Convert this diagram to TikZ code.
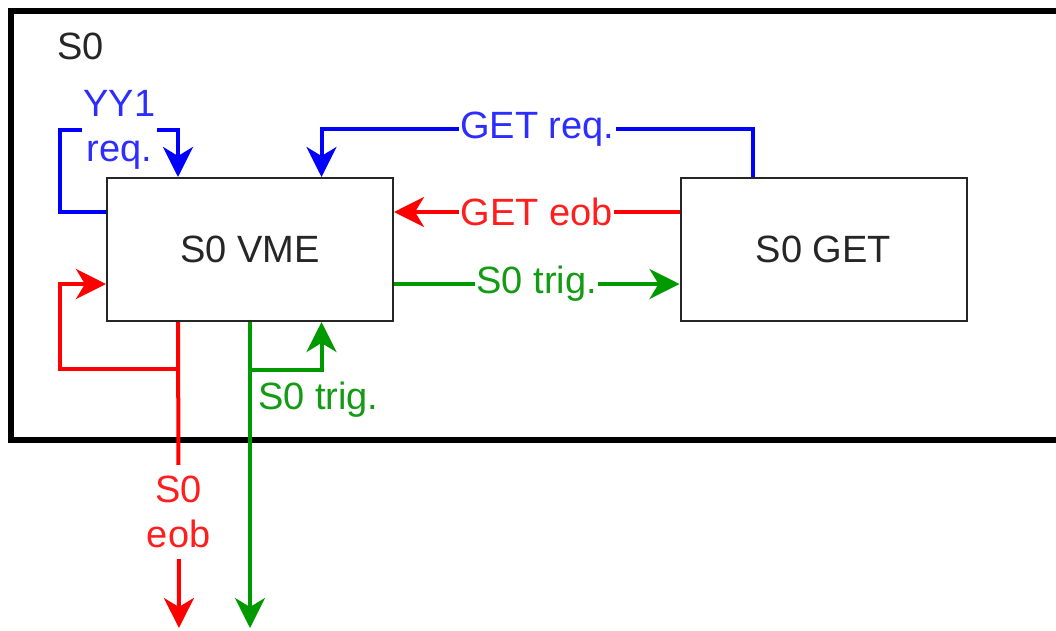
\documentclass[tikz,border=0pt]{standalone}
\usepackage{fontspec}
\setmainfont{Liberation Sans}
\usetikzlibrary{arrows.meta}
\definecolor{myblue}{RGB}{0,0,255}
\definecolor{myred}{RGB}{255,0,0}
\definecolor{mygreen}{RGB}{0,153,0}
\definecolor{bluetext}{RGB}{45,45,255}
\definecolor{redtext}{RGB}{255,30,30}
\definecolor{greentext}{RGB}{20,155,20}
\begin{document}
\begin{tikzpicture}[x=1pt,y=-1pt,
  box/.style={draw=black!85, line width=2pt, minimum width=286pt, minimum height=143pt,
    inner sep=0pt, font=\fontsize{38}{45}\selectfont, text=black!85},
  conn/.style={line width=4pt, -{Stealth[length=30pt,width=30pt,inset=9pt]}},
  lbl/.style={fill=white, font=\fontsize{38}{45}\selectfont, inner xsep=1.5pt, inner ysep=2pt, align=center},
  plain/.style={font=\fontsize{38}{45}\selectfont, inner sep=0pt},
]
\useasboundingbox (0,0) rectangle (1056,630);
\fill[white] (0,0) rectangle (1056,630);
% outer frame
\draw[line width=6pt] (11,11) rectangle (1075,440);
\node[plain, anchor=base west, text=black!85] (title) at (57,59) {S0};

% blocks
\node[box] (vme) at (250,249.5) {S0 VME};
\node[box] (get) at (823.5,249.5) {S0 GET};

% coordinates
\coordinate (yyL) at (60,130);
\coordinate (redL) at (60,369);
\coordinate (eobEnd) at (179,628);
\coordinate (trigEnd) at (250,628);

% YY1 req. loop
\draw[conn,myblue] ([yshift=-35pt]vme.north west) -| (yyL) -| ([xshift=72pt]vme.north west);
\node[lbl, text=bluetext] (yylbl) at (119.5,130) {YY1\\req.};

% GET req.
\draw[conn,myblue] ([xshift=-70.5pt]get.north) -- ++(0,-48)
  -| node[lbl, pos=0.25, text=bluetext] (getreq) {GET req.} ([xshift=71.5pt]vme.north);

% GET eob
\draw[conn,myred] ([yshift=-35pt]get.north west) -- node[lbl, text=redtext] (geteob) {GET eob} ([yshift=-35pt]vme.north east);

% S0 trig. to GET
\draw[conn,mygreen] ([yshift=-107pt]vme.north east) -- node[lbl, text=greentext] (trig1) {S0 trig.} ([yshift=-107pt]get.north west);

% red loop back
\draw[conn,myred] ([xshift=72pt]vme.south west) |- (redL) |- ([yshift=-107pt]vme.north west);
% red down
\draw[conn,myred] ([xshift=72pt]vme.south west) -- node[lbl, pos=0.62, inner ysep=11pt, text=redtext] (eoblbl) {S0\\eob} (eobEnd);

% green down
\draw[conn,mygreen] (vme.south) -- (trigEnd);
% green branch back
\draw[conn,mygreen] ([yshift=-48pt]vme.south) -| ([xshift=71.5pt]vme.south);
\node[plain, anchor=base west, text=greentext] (trig2) at (258,409) {S0 trig.};
\end{tikzpicture}
\end{document}
